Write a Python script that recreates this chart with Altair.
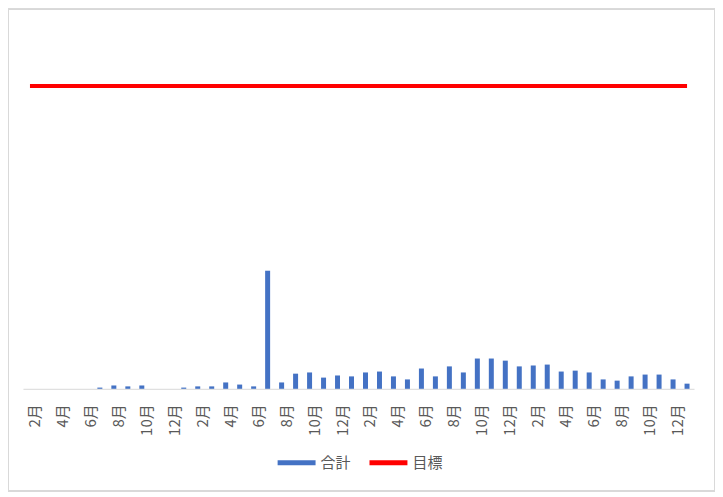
import altair as alt
import pandas as pd

# --- categories: 48 months, Feb of year 1 .. Jan of year 5 ---
MONTHS = [2, 3, 4, 5, 6, 7, 8, 9, 10, 11, 12, 1,
          2, 3, 4, 5, 6, 7, 8, 9, 10, 11, 12, 1,
          2, 3, 4, 5, 6, 7, 8, 9, 10, 11, 12, 1,
          2, 3, 4, 5, 6, 7, 8, 9, 10, 11, 12, 1]

# --- series values (target = 100) ---
TOTAL = [0, 0, 0, 0, 0, 0.4, 1.1, 0.8, 1.1, 0, 0, 0.4,
         0.8, 0.8, 2.1, 1.4, 0.8, 39.0, 2.1, 5.0, 5.4, 3.7, 4.4, 4.1,
         5.4, 5.7, 4.1, 3.1, 6.7, 4.1, 7.4, 5.4, 10.0, 10.0, 9.3, 7.4,
         7.7, 8.0, 5.7, 6.0, 5.4, 3.1, 2.7, 4.1, 4.7, 4.7, 3.1, 1.7]
TARGET = 100

SERIES_NAMES = ['合計', '目標']
SERIES_COLORS = ['#4472C4', '#FF0000']

FONT = 'Noto Sans CJK JP'
GRAY = '#595959'

keys = [f"{i:02d}|{m}月" for i, m in enumerate(MONTHS)]
df = pd.DataFrame({'key': keys, 'total': TOTAL, 'target': [TARGET] * len(keys)})
shown = [k for i, k in enumerate(keys) if i % 2 == 0]

W, H = 672, 379

x_enc = alt.X('key:N', sort=None, title=None,
              scale=alt.Scale(paddingInner=0, paddingOuter=0),
              axis=alt.Axis(values=shown, labelExpr="split(datum.value, '|')[1]",
                            labelAngle=270, labelPadding=15, labelOffset=5,
                            ticks=False, domainColor='#d9d9d9', domainWidth=1,
                            labelColor=GRAY, labelFont=FONT, labelFontSize=15, grid=False))
y_scale = alt.Scale(domain=[0, 125], nice=False)

# legend built from the bar layer's colour scale (both series in the domain)
color_scale = alt.Scale(domain=SERIES_NAMES, range=SERIES_COLORS)
legend = alt.Legend(orient='none', legendX=255, legendY=434,
                    direction='horizontal', title=None,
                    symbolType='M-1,-0.13H1V0.13H-1Z', symbolSize=1444,
                    symbolStrokeWidth=0, symbolOpacity=1, columnPadding=18, labelOffset=5,
                    labelFont=FONT, labelFontSize=15, labelColor=GRAY)

base = alt.Chart(df)

bars = base.mark_bar(size=5).encode(
    x=x_enc,
    y=alt.Y('total:Q', scale=y_scale, axis=None),
    color=alt.Color('s:N', scale=color_scale, legend=legend),
).transform_calculate(s="'合計'")

line = base.mark_line(strokeWidth=4, color=SERIES_COLORS[1]).encode(
    x=x_enc,
    y=alt.Y('target:Q', scale=y_scale, axis=None),
)

# outer chart frame (like the Excel chart area border)
frame = base.mark_rect(fill=None, stroke='#d9d9d9', strokeWidth=1).encode(
    x=alt.value(-14.5), x2=alt.value(W + 20.5),
    y=alt.value(-1.5), y2=alt.value(H + 102.5),
)

chart = alt.layer(bars, line, frame).properties(
    width=W, height=H,
    autosize=alt.AutoSizeParams(type='none'),
    padding={'left': 15, 'top': 2, 'right': 21, 'bottom': 103},
).configure_view(stroke=None)

chart.save("out.html", embed_options={"renderer": "svg", "actions": False})
